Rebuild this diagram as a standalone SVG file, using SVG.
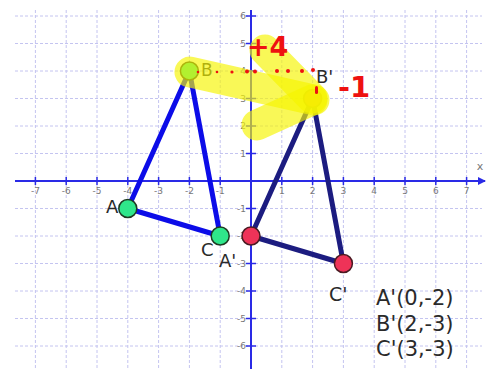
<svg xmlns="http://www.w3.org/2000/svg" width="486" height="369" viewBox="0 0 486 369">
<style>
.grid line{stroke:#c4c4f0;stroke-width:1;stroke-dasharray:3 2}
.axis{stroke:#2a2ae6;stroke-width:2}
.tick{stroke:#2a2ae6;stroke-width:1.5}
.tl{font-family:"DejaVu Sans",sans-serif;font-size:9px;fill:#777}
.abc{stroke:#0c0ce8;stroke-width:5;stroke-linecap:round}
.img{stroke:#1c1c80;stroke-width:5;stroke-linecap:round}
.ptg{fill:#2fe68a;stroke:#1e3a22;stroke-width:1.5}
.ptr{fill:#ee3358;stroke:#4a1a22;stroke-width:1.5}
.hw{font-family:"DejaVu Sans",sans-serif;fill:#2a2a2a}
.hl{stroke:#f6f400;stroke-opacity:0.66;stroke-width:31;stroke-linecap:round;fill:none}
.red{fill:#ee1111}
.rt{font-family:"DejaVu Sans",sans-serif;font-weight:bold;fill:#ee1111}
</style>
<defs>
<marker id="arr" markerWidth="8" markerHeight="8" refX="7" refY="4" orient="auto" markerUnits="userSpaceOnUse">
<path d="M0,0 L8,4 L0,8 Z" fill="#2a2ae6"/>
</marker>
</defs>
<rect width="486" height="369" fill="#fff"/>
<g class="grid">
<line x1="35.4" y1="10" x2="35.4" y2="369"/>
<line x1="66.2" y1="10" x2="66.2" y2="369"/>
<line x1="97" y1="10" x2="97" y2="369"/>
<line x1="127.8" y1="10" x2="127.8" y2="369"/>
<line x1="158.6" y1="10" x2="158.6" y2="369"/>
<line x1="189.4" y1="10" x2="189.4" y2="369"/>
<line x1="220.2" y1="10" x2="220.2" y2="369"/>
<line x1="281.8" y1="10" x2="281.8" y2="369"/>
<line x1="312.6" y1="10" x2="312.6" y2="369"/>
<line x1="343.4" y1="10" x2="343.4" y2="369"/>
<line x1="374.2" y1="10" x2="374.2" y2="369"/>
<line x1="405" y1="10" x2="405" y2="369"/>
<line x1="435.8" y1="10" x2="435.8" y2="369"/>
<line x1="466.6" y1="10" x2="466.6" y2="369"/>
<line x1="15" y1="16" x2="482" y2="16"/>
<line x1="15" y1="43.5" x2="482" y2="43.5"/>
<line x1="15" y1="71" x2="482" y2="71"/>
<line x1="15" y1="98.5" x2="482" y2="98.5"/>
<line x1="15" y1="126" x2="482" y2="126"/>
<line x1="15" y1="153.5" x2="482" y2="153.5"/>
<line x1="15" y1="208.5" x2="482" y2="208.5"/>
<line x1="15" y1="236" x2="482" y2="236"/>
<line x1="15" y1="263.5" x2="482" y2="263.5"/>
<line x1="15" y1="291" x2="482" y2="291"/>
<line x1="15" y1="318.5" x2="482" y2="318.5"/>
<line x1="15" y1="346" x2="482" y2="346"/>
</g>
<g id="axes">
<line class="axis" x1="15" y1="181" x2="485" y2="181" marker-end="url(#arr)"/>
<line class="axis" x1="251" y1="10" x2="251" y2="369"/>
<g class="tick">
<line x1="35.4" y1="177" x2="35.4" y2="185"/><line x1="66.2" y1="177" x2="66.2" y2="185"/><line x1="97" y1="177" x2="97" y2="185"/><line x1="127.8" y1="177" x2="127.8" y2="185"/><line x1="158.6" y1="177" x2="158.6" y2="185"/><line x1="189.4" y1="177" x2="189.4" y2="185"/><line x1="220.2" y1="177" x2="220.2" y2="185"/><line x1="281.8" y1="177" x2="281.8" y2="185"/><line x1="312.6" y1="177" x2="312.6" y2="185"/><line x1="343.4" y1="177" x2="343.4" y2="185"/><line x1="374.2" y1="177" x2="374.2" y2="185"/><line x1="405" y1="177" x2="405" y2="185"/><line x1="435.8" y1="177" x2="435.8" y2="185"/><line x1="466.6" y1="177" x2="466.6" y2="185"/>
<line x1="246" y1="16" x2="256" y2="16"/><line x1="246" y1="43.5" x2="256" y2="43.5"/><line x1="246" y1="71" x2="256" y2="71"/><line x1="246" y1="98.5" x2="256" y2="98.5"/><line x1="246" y1="126" x2="256" y2="126"/><line x1="246" y1="153.5" x2="256" y2="153.5"/><line x1="246" y1="208.5" x2="256" y2="208.5"/><line x1="246" y1="236" x2="256" y2="236"/><line x1="246" y1="263.5" x2="256" y2="263.5"/><line x1="246" y1="291" x2="256" y2="291"/><line x1="246" y1="318.5" x2="256" y2="318.5"/><line x1="246" y1="346" x2="256" y2="346"/>
</g>
<g class="tl" text-anchor="middle">
<text x="35.4" y="194">-7</text><text x="66.2" y="194">-6</text><text x="97" y="194">-5</text><text x="127.8" y="194">-4</text><text x="158.6" y="194">-3</text><text x="189.4" y="194">-2</text><text x="220.2" y="194">-1</text><text x="281.8" y="194">1</text><text x="312.6" y="194">2</text><text x="343.4" y="194">3</text><text x="374.2" y="194">4</text><text x="405" y="194">5</text><text x="435.8" y="194">6</text><text x="466.6" y="194">7</text>
</g>
<g class="tl" text-anchor="end">
<text x="246" y="19">6</text><text x="246" y="46.5">5</text><text x="246" y="74">4</text><text x="246" y="101.5">3</text><text x="246" y="129">2</text><text x="246" y="156.5">1</text><text x="246" y="211.5">-1</text><text x="246" y="239">-2</text><text x="246" y="266.5">-3</text><text x="246" y="294">-4</text><text x="246" y="321.5">-5</text><text x="246" y="349">-6</text>
</g>
<text class="tl" x="480" y="170" text-anchor="middle" style="font-size:11px">x</text>
</g>
<g id="connectors">
<line class="abc" x1="127.8" y1="208.5" x2="189.4" y2="71"/>
<line class="abc" x1="189.4" y1="71" x2="220.2" y2="236"/>
<line class="abc" x1="220.2" y1="236" x2="127.8" y2="208.5"/>
<line class="img" x1="251" y1="236" x2="312.6" y2="98.5"/>
<line class="img" x1="312.6" y1="98.5" x2="343.4" y2="263.5"/>
<line class="img" x1="343.4" y1="263.5" x2="251" y2="236"/>
</g>
<g id="A"><circle class="ptg" cx="127.8" cy="208.5" r="9"/><text class="hw" x="106" y="213" font-size="18">A</text></g>
<g id="B"><circle class="ptg" cx="189.4" cy="71" r="9"/><text class="hw" x="201" y="76" font-size="17">B</text></g>
<g id="C"><circle class="ptg" cx="220.2" cy="236" r="9"/><text class="hw" x="201" y="256" font-size="18">C</text></g>
<g id="A_prime"><circle class="ptr" cx="251" cy="236" r="9"/><text class="hw" x="219" y="267" font-size="18">A'</text></g>
<g id="B_prime"><circle class="ptr" cx="312.6" cy="98.5" r="9"/><text class="hw" x="316" y="83" font-size="18">B'</text></g>
<g id="C_prime"><circle class="ptr" cx="343.4" cy="263.5" r="9"/><text class="hw" x="329" y="301" font-size="19">C'</text></g>
<g id="highlight">
<line class="hl" x1="190" y1="72" x2="314" y2="100"/>
<line class="hl" x1="265" y1="50" x2="312" y2="98"/>
<line class="hl" x1="312" y1="100" x2="257" y2="125"/>
</g>
<g id="annotations">
<g class="red">
<circle cx="198" cy="72" r="1.3"/><circle cx="217" cy="72" r="1.3"/><circle cx="232" cy="72" r="1.6"/><circle cx="247" cy="71.5" r="2"/><circle cx="255" cy="71.5" r="2"/><circle cx="277" cy="71" r="2"/><circle cx="288" cy="71" r="2"/><circle cx="302" cy="71" r="2"/><circle cx="313" cy="70" r="2"/>
<rect x="315" y="86" width="3" height="8" rx="1.5"/>
</g>
<text class="rt" x="247" y="56" font-size="27">+4</text>
<text class="rt" x="338" y="97" font-size="29">-1</text>
<g class="hw" font-size="21">
<text x="376" y="305">A'(0,-2)</text>
<text x="376" y="331">B'(2,-3)</text>
<text x="376" y="356">C'(3,-3)</text>
</g>
</g>
</svg>
